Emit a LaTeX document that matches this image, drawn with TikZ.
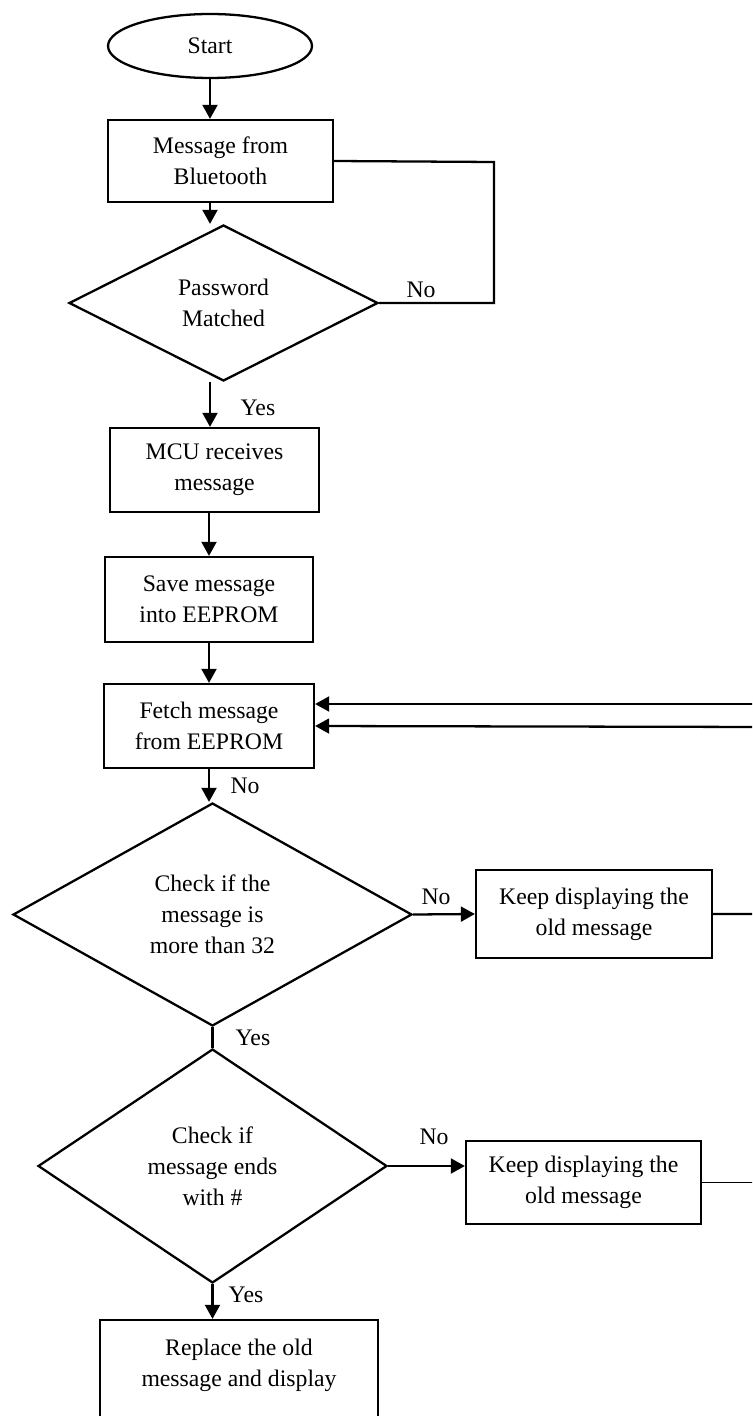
\documentclass[tikz,border=0pt]{standalone}
\usepackage{fontspec}
\setmainfont{Liberation Serif}
\usepackage{tikz}
\usetikzlibrary{arrows.meta,shapes.geometric,calc}

\begin{document}
\begin{tikzpicture}[x=0.02cm,y=-0.02cm]
  \clip (0,0) rectangle (752,1416);
  \tikzstyle{every node}=[font=\fontsize{13.5}{17.6}\selectfont, inner sep=0pt]
  \tikzstyle{BoxStyle}=[draw, rectangle, line width=1.3pt, align=center]
  \tikzstyle{DecisionStyle}=[draw, diamond, line width=1.3pt, align=center]
  \tikzstyle{EdgeStyle}=[line width=1.3pt, -{Triangle[length=8pt,width=8.5pt]}]
  \tikzstyle{LineStyle}=[line width=1.3pt]

  \node[draw, ellipse, line width=1.3pt, minimum width=4.08cm, minimum height=1.28cm] (start) at (210,46) {Start};
  \node[BoxStyle, minimum width=4.5cm, minimum height=1.64cm] (blue) at (220.5,161) {Message from\\Bluetooth};
  \node[DecisionStyle, aspect=1.98, minimum width=6.18cm, minimum height=3.12cm] (pass) at (223.5,303) {Password\\Matched};
  \node[BoxStyle, minimum width=4.18cm, minimum height=1.68cm] (mcu) at (214.5,470) {MCU receives\\message};
  \node[BoxStyle, minimum width=4.16cm, minimum height=1.7cm] (save) at (209,599.5) {Save message\\into EEPROM};
  \node[BoxStyle, minimum width=4.2cm, minimum height=1.68cm] (fetch) at (209,726) {Fetch message\\from EEPROM};
  \node[DecisionStyle, aspect=1.79, minimum width=7.98cm, minimum height=4.46cm] (len) at (212.5,914.5) {Check if the\\message is\\more than 32};
  \node[BoxStyle, minimum width=4.72cm, minimum height=1.76cm] (keepA) at (594,914) {Keep displaying the\\old message};
  \node[DecisionStyle, aspect=1.49, minimum width=6.98cm, minimum height=4.68cm] (hash) at (212.5,1166) {Check if\\message ends\\with \#};
  \node[BoxStyle, minimum width=4.7cm, minimum height=1.66cm] (keepB) at (583.5,1182.5) {Keep displaying the\\old message};
  \node[BoxStyle, minimum width=5.56cm, minimum height=2.32cm] (repl) at (239,1378) {Replace the old\\message and display\\\mbox{}};

  \coordinate (loop1) at (494,162);
  \coordinate (back1) at (772,727);
  \coordinate (back2) at (790,704);

  \draw[EdgeStyle] (start.south) -- (start.south |- blue.north);
  \draw[EdgeStyle] (blue.south -| start) -- (pass.north -| start);
  \draw[EdgeStyle] (pass.south -| start) -- (start |- mcu.north);
  \draw[EdgeStyle] (mcu.south -| save) -- (save.north);
  \draw[EdgeStyle] (save.south) -- (fetch.north);
  \draw[EdgeStyle] (fetch.south) -- (fetch.south |- len.north);
  \draw[LineStyle] (len.south) -- (hash.north);
  \draw[EdgeStyle] (hash.south) -- (hash.south |- repl.north);

  \draw[LineStyle] (pass.east) -| (loop1) -- (blue.east);
  \draw[EdgeStyle] (len.east) -- (keepA.west);
  \draw[EdgeStyle] (hash.east) -- (hash.east -| keepB.west);

  % back to fetch (off the page)
  \draw[EdgeStyle] (keepA.east) -| (back1) -- (fetch.east);
  \draw[line width=0.6pt] (keepB.east) -| (back2);
  \draw[EdgeStyle] (back2) -- (fetch.east |- back2);

  \node (no1) at (421,290) {No};
  \node (yes1) at (258,408) {Yes};
  \node (no2) at (245,786) {No};
  \node (no3) at (436,897) {No};
  \node (yes2) at (253,1038) {Yes};
  \node (no4) at (434,1137) {No};
  \node (yes3) at (246,1295) {Yes};
\end{tikzpicture}
\end{document}
